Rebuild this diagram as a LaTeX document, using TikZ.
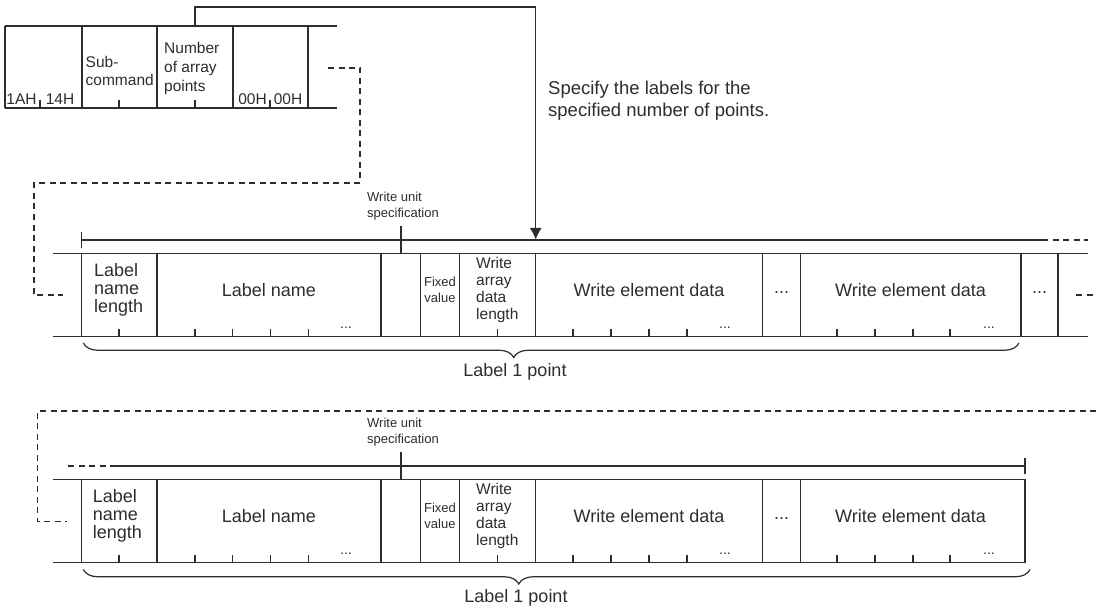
\documentclass[tikz,border=0pt]{standalone}
\usepackage{fontspec}
\setmainfont{Liberation Sans}
\usetikzlibrary{arrows.meta, decorations.pathreplacing, positioning}
\definecolor{ink}{RGB}{45,45,45}

\begin{document}
\begin{tikzpicture}[
    x=1pt, y=-1pt, % one unit per pixel, y runs downward
    >={Latex[length=11.5pt, width=12pt]}, % Set default arrow tip style
    ruling/.style={draw=ink, line width=1.2pt}, % Style for frame lines
    dashline/.style={ruling, dash pattern=on 6pt off 4.5pt}, % Style for continuation lines
    bigtext/.style={inner sep=0pt, text=ink, align=center, font=\fontsize{18}{18.3}\selectfont}, % Style for field names
    headtext/.style={inner sep=0pt, text=ink, align=left, font=\fontsize{15.5}{18.7}\selectfont}, % Style for command frame
    midtext/.style={inner sep=0pt, text=ink, align=left, font=\fontsize{15.5}{16.7}\selectfont}, % Style for array data length
    smalltext/.style={inner sep=0pt, text=ink, align=left, font=\fontsize{13}{16}\selectfont}, % Style for small notes
    dotstext/.style={inner sep=0pt, text=ink, font=\fontsize{14}{14}\selectfont}, % Style for tick dots
    pointbrace/.style={ruling, decorate, decoration={brace, mirror, amplitude=14.5pt, aspect=0.46}} % Style for Label 1 point braces
]

    % Page size
    \useasboundingbox (0,0) rectangle (1096,615);

    % Command frame
    \draw[ruling] (5,26) -- (337,26) (5,108) -- (337,108);
    \draw[ruling] (5,26) -- (5,108) (82,26) -- (82,108) (157,26) -- (157,108) (233,26) -- (233,108) (308,26) -- (308,108);
    \draw[ruling] (40,100.5) -- (40,108) (119,100.5) -- (119,108) (195,100.5) -- (195,108) (270,100.5) -- (270,108);
    \node[headtext] (cmdA) at (21.5,99) {1AH};
    \node[headtext] (cmdB) at (60,99) {14H};
    \node[headtext, anchor=west] (subcmd) at (85.5,71) {Sub-\\command};
    \node[headtext, anchor=west] (numpts) at (164,68.5) {Number\\of array\\points};
    \node[headtext] (zeroA) at (252.5,99) {00H};
    \node[headtext] (zeroB) at (288,99) {00H};

    % Number of points refers to the label rows
    \coordinate (numTop) at (195,26);
    \coordinate (numTurn) at (195,7);
    \coordinate (barHit) at (535.7,239.5);
    \draw[ruling, ->] (numTop) -- (numTurn) -| (barHit);
    \node[inner sep=0pt, text=ink, align=left, anchor=west, font=\fontsize{18.5}{21.7}\selectfont] (note) at (548,101) {Specify the labels for the\\specified number of points.};

    % Continuation from the command frame
    \coordinate (cmdOut) at (328,68);
    \coordinate (rowAIn) at (63,295);
    \draw[dashline] (cmdOut) -| (360,183) -| (34,295) -- (rowAIn);

    % Label row 1
    \draw[ruling] (53,253.3) -- (1088,253.3) (53,336.7) -- (1088,336.7);
    \draw[ruling] (81.7,253.3) -- (81.7,336.7) (157,253.3) -- (157,336.7) (381,253.3) -- (381,336.7) (420.5,253.3) -- (420.5,336.7) (459.5,253.3) -- (459.5,336.7);
    \draw[ruling] (535.7,253.3) -- (535.7,336.7) (762.5,253.3) -- (762.5,336.7) (800.5,253.3) -- (800.5,336.7) (1021,253.3) -- (1021,336.7) (1058,253.3) -- (1058,336.7);
    \draw[ruling] (119,329) -- (119,336.7) (195,329) -- (195,336.7) (232.5,329) -- (232.5,336.7) (270.5,329) -- (270.5,336.7) (308.5,329) -- (308.5,336.7) (497.5,329) -- (497.5,336.7);
    \draw[ruling] (573,329) -- (573,336.7) (611,329) -- (611,336.7) (649,329) -- (649,336.7) (687,329) -- (687,336.7);
    \draw[ruling] (837,329) -- (837,336.7) (875,329) -- (875,336.7) (913,329) -- (913,336.7) (950,329) -- (950,336.7);
    \draw[ruling] (81.7,240) -- (1042,240) (81.7,232) -- (81.7,248) (401,226) -- (401,253.3);
    \draw[dashline] (1042,240) -- (1088,240);
    \node[smalltext, anchor=west] (unitA) at (367,206.3) {Write unit\\specification};
    \node[bigtext, align=left, anchor=west] (lenA) at (94,290) {Label\\name\\length};
    \node[bigtext] (nameA) at (269,290.5) {Label name};
    \node[smalltext, align=center] (fixA) at (440,290) {Fixed\\value};
    \node[midtext, anchor=west] (arrA) at (476,290) {Write\\array\\data\\length};
    \node[bigtext] (elemA) at (649,290.5) {Write element data};
    \node[bigtext] (moreA) at (781.5,293) {...};
    \node[bigtext] (elemAA) at (910.5,290.5) {Write element data};
    \node[bigtext] (restA) at (1039.5,293) {...};
    \node[dotstext] (tickA1) at (346,328) {...};
    \node[dotstext] (tickA2) at (725,328) {...};
    \node[dotstext] (tickA3) at (989,328) {...};
    \draw[pointbrace] (83.3,343) -- (1019,343);
    \node[bigtext] (pointA) at (515,372) {Label 1 point};
    \coordinate (rowAOut) at (1076,295);
    \coordinate (rowAEdge) at (1096,295);
    \draw[dashline] (rowAOut) -- (rowAEdge);

    % Continuation into row 2
    \coordinate (rowBEdge) at (1096,411);
    \coordinate (rowBIn) at (66.7,521.5);
    \draw[dashline] (rowBEdge) -| (37.3,521.5) -- (rowBIn);

    % Label row 2
    \draw[ruling] (53,479.3) -- (1025,479.3) (53,562.7) -- (1025,562.7);
    \draw[ruling] (81.7,479.3) -- (81.7,562.7) (157,479.3) -- (157,562.7) (381,479.3) -- (381,562.7) (420.5,479.3) -- (420.5,562.7) (459.5,479.3) -- (459.5,562.7);
    \draw[ruling] (535.7,479.3) -- (535.7,562.7) (762.5,479.3) -- (762.5,562.7) (800.5,479.3) -- (800.5,562.7) (1025,479.3) -- (1025,562.7);
    \draw[ruling] (119,555) -- (119,562.7) (195,555) -- (195,562.7) (232.5,555) -- (232.5,562.7) (270.5,555) -- (270.5,562.7) (308.5,555) -- (308.5,562.7) (497.5,555) -- (497.5,562.7);
    \draw[ruling] (573,555) -- (573,562.7) (611,555) -- (611,562.7) (649,555) -- (649,562.7) (687,555) -- (687,562.7);
    \draw[ruling] (837,555) -- (837,562.7) (875,555) -- (875,562.7) (913,555) -- (913,562.7) (950,555) -- (950,562.7);
    \draw[dashline] (68,466) -- (116,466);
    \draw[ruling] (116,466) -- (1025,466) (1025,458) -- (1025,474) (401,452) -- (401,479.3);
    \node[smalltext, anchor=west] (unitB) at (367,432.3) {Write unit\\specification};
    \node[bigtext, align=left, anchor=west] (lenB) at (92.7,516) {Label\\name\\length};
    \node[bigtext] (nameB) at (269,516.5) {Label name};
    \node[smalltext, align=center] (fixB) at (440,516) {Fixed\\value};
    \node[midtext, anchor=west] (arrB) at (476,516) {Write\\array\\data\\length};
    \node[bigtext] (elemB) at (649,516.5) {Write element data};
    \node[bigtext] (moreB) at (781.5,519) {...};
    \node[bigtext] (elemBB) at (910.5,516.5) {Write element data};
    \node[dotstext] (tickB1) at (346,554) {...};
    \node[dotstext] (tickB2) at (725,554) {...};
    \node[dotstext] (tickB3) at (989,554) {...};
    \draw[pointbrace] (83.3,569.5) -- (1030,569.5);
    \node[bigtext] (pointB) at (516,598) {Label 1 point};

\end{tikzpicture}
\end{document}
